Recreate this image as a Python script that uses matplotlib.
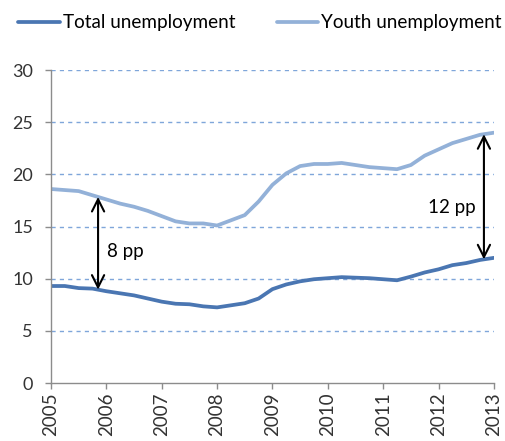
import numpy as np
import matplotlib
matplotlib.use("Agg")
import matplotlib.pyplot as plt

# quarterly observations, 2005Q1 .. 2013Q1
quarters = np.arange(2005, 2013.01, 0.25)
total = [9.3, 9.3, 9.1, 9.05, 8.8, 8.6, 8.4, 8.1, 7.8, 7.6, 7.55, 7.35, 7.25,
         7.45, 7.65, 8.1, 9.0, 9.45, 9.75, 9.95, 10.05, 10.15, 10.1, 10.05,
         9.95, 9.85, 10.2, 10.6, 10.9, 11.3, 11.5, 11.8, 12.0]
youth = [18.6, 18.5, 18.4, 18.0, 17.6, 17.2, 16.9, 16.5, 16.0, 15.5, 15.3,
         15.3, 15.1, 15.6, 16.1, 17.4, 19.0, 20.1, 20.8, 21.0, 21.0, 21.1,
         20.9, 20.7, 20.6, 20.5, 20.9, 21.8, 22.4, 23.0, 23.4, 23.8, 24.0]
years = list(range(2005, 2014))
gaps = [(2005.85, "8 pp"), (2012.82, "12 pp")]

total_color = "#4A76B2"
youth_color = "#93B1D8"
axis_color = "#8C8C8C"
font = "Lato"

fig = plt.figure(figsize=(5.05, 4.41), dpi=100)
ax = fig.add_axes([0.101, 0.1315, 0.877, 0.7095])

ax.plot(quarters, total, color=total_color, lw=2.7, solid_capstyle="round",
        label="Total unemployment")
ax.plot(quarters, youth, color=youth_color, lw=2.7, solid_capstyle="round",
        label="Youth unemployment")

for x, txt in gaps:
    lo = np.interp(x, quarters, total)
    hi = np.interp(x, quarters, youth)
    ax.annotate("", xy=(x, hi), xytext=(x, lo),
                arrowprops=dict(arrowstyle="<->", color="black", lw=1.5,
                                mutation_scale=22, shrinkA=0, shrinkB=0))
    if x < 2010:
        ax.text(x + 0.17, 12.6, txt, fontsize=13.5, family=font, va="center", ha="left")
    else:
        ax.text(x - 0.15, 16.8, txt, fontsize=13.5, family=font, va="center", ha="right")

ax.set_xlim(2005, 2013)
ax.set_ylim(0, 30)
ax.set_yticks(range(0, 31, 5))
ax.set_xticks(years)
ax.set_xticklabels([str(y) for y in years], rotation=90, fontsize=13.5,
                   family=font, color="#333333")
ax.set_yticklabels([str(v) for v in range(0, 31, 5)], fontsize=13,
                   family=font, color="#333333")

for v in range(5, 31, 5):
    ax.axhline(v, color="#7FA6DA", lw=1.0, ls=(0, (3, 3)), zorder=0)

for side in ["top", "right"]:
    ax.spines[side].set_visible(False)
for side in ["left", "bottom"]:
    ax.spines[side].set_color(axis_color)
    ax.spines[side].set_linewidth(1.0)
ax.tick_params(axis="both", color=axis_color, length=4, width=1.0, direction="out")
ax.tick_params(axis="x", pad=3)
ax.tick_params(axis="y", pad=9)

fig.legend(loc="center left", bbox_to_anchor=(0.0356, 0.948), ncol=2, frameon=False,
           prop={"family": font, "size": 13.6}, handlelength=2.2,
           handletextpad=0.16, columnspacing=2.2, borderaxespad=0, borderpad=0)

fig.savefig("out.png", dpi=100)
